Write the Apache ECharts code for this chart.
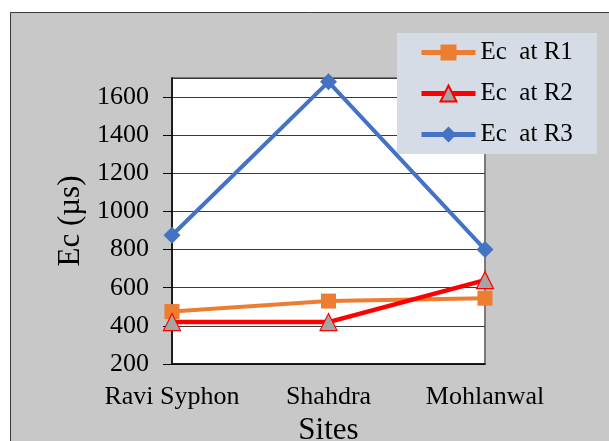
<!DOCTYPE html>
<html>
<head>
<meta charset="utf-8">
<script src="https://cdn.jsdelivr.net/npm/echarts@6/dist/echarts.min.js"></script>
<style>
  html, body { margin: 0; padding: 0; background: #ffffff; }
  #chart { width: 609px; height: 441px; }
</style>
</head>
<body>
<div id="chart"></div>
<script>
// Sites along the horizontal axis
const sites = ['Ravi Syphon', 'Shahdra', 'Mohlanwal'];
// Ec values (µs) at each site
const ecR1 = [475, 530, 545];
const ecR2 = [420, 420, 640];
const ecR3 = [875, 1680, 800];
const seriesNames = ['Ec  at R1', 'Ec  at R2', 'Ec  at R3'];

const serif = '"Liberation Serif", "Times New Roman", serif';
const chart = echarts.init(document.getElementById('chart'), null, { renderer: 'canvas' });

chart.setOption({
  backgroundColor: '#ffffff',
  animation: false,
  graphic: [{
    type: 'rect',
    z: -10,
    shape: { x: 10.5, y: 12.5, width: 640, height: 440 },
    style: { fill: '#c8c8c8', stroke: '#3a3a3a', lineWidth: 1 }
  }],
  grid: {
    left: 172, top: 78, width: 313, height: 286,
    containLabel: false,
    outerBoundsMode: 'none',
    show: true, backgroundColor: '#ffffff', borderColor: '#7a7a7a', borderWidth: 2
  },
  legend: {
    left: 397, top: 33,
    orient: 'vertical',
    backgroundColor: '#d6dce5',
    padding: [7, 24, 7, 22],
    itemGap: 16,
    itemWidth: 54, itemHeight: 20,
    textStyle: { fontFamily: serif, fontSize: 25, color: '#000' },
    data: [
      { name: seriesNames[0], lineStyle: { width: 5 } },
      { name: seriesNames[1], lineStyle: { width: 5 } },
      { name: seriesNames[2], lineStyle: { width: 5 } }
    ]
  },
  xAxis: {
    type: 'category',
    data: sites,
    boundaryGap: false,
    name: 'Sites',
    nameLocation: 'middle',
    nameGap: 43,
    nameTextStyle: { fontFamily: serif, fontSize: 31, color: '#000' },
    axisLine: { lineStyle: { color: '#000', width: 1.5 } },
    axisTick: { show: false },
    axisLabel: { fontFamily: serif, fontSize: 26, color: '#000', margin: 20, interval: 0, hideOverlap: false },
    splitLine: { show: false }
  },
  yAxis: {
    type: 'value',
    min: 200, max: 1700, interval: 200,
    name: 'Ec (µs)',
    nameLocation: 'middle',
    nameGap: 86,
    nameTextStyle: { fontFamily: serif, fontSize: 31, color: '#000' },
    axisLine: { show: true, lineStyle: { color: '#000', width: 1.5 } },
    axisTick: { show: true, inside: false, length: 9, lineStyle: { color: '#000' } },
    axisLabel: {
      fontFamily: serif, fontSize: 26, color: '#000', margin: 23,
      showMaxLabel: false,
      formatter: function (v) { return String(v); }
    },
    splitLine: { lineStyle: { color: '#3a3a3a', width: 1 } }
  },
  series: [
    {
      name: seriesNames[0], type: 'line', data: ecR1,
      symbol: 'rect', symbolSize: 15,
      lineStyle: { color: '#ED7D31', width: 4 },
      itemStyle: { color: '#ED7D31', borderWidth: 0 },
      z: 3
    },
    {
      name: seriesNames[1], type: 'line', data: ecR2,
      symbol: 'triangle', symbolSize: 17,
      lineStyle: { color: '#FF0000', width: 4.5 },
      itemStyle: { color: '#A5A5A5', borderColor: '#FF0000', borderWidth: 1.2 },
      z: 4
    },
    {
      name: seriesNames[2], type: 'line', data: ecR3,
      symbol: 'diamond', symbolSize: 17,
      lineStyle: { color: '#4472C4', width: 4 },
      itemStyle: { color: '#4472C4', borderWidth: 0 },
      z: 5
    }
  ]
});
</script>
</body>
</html>
